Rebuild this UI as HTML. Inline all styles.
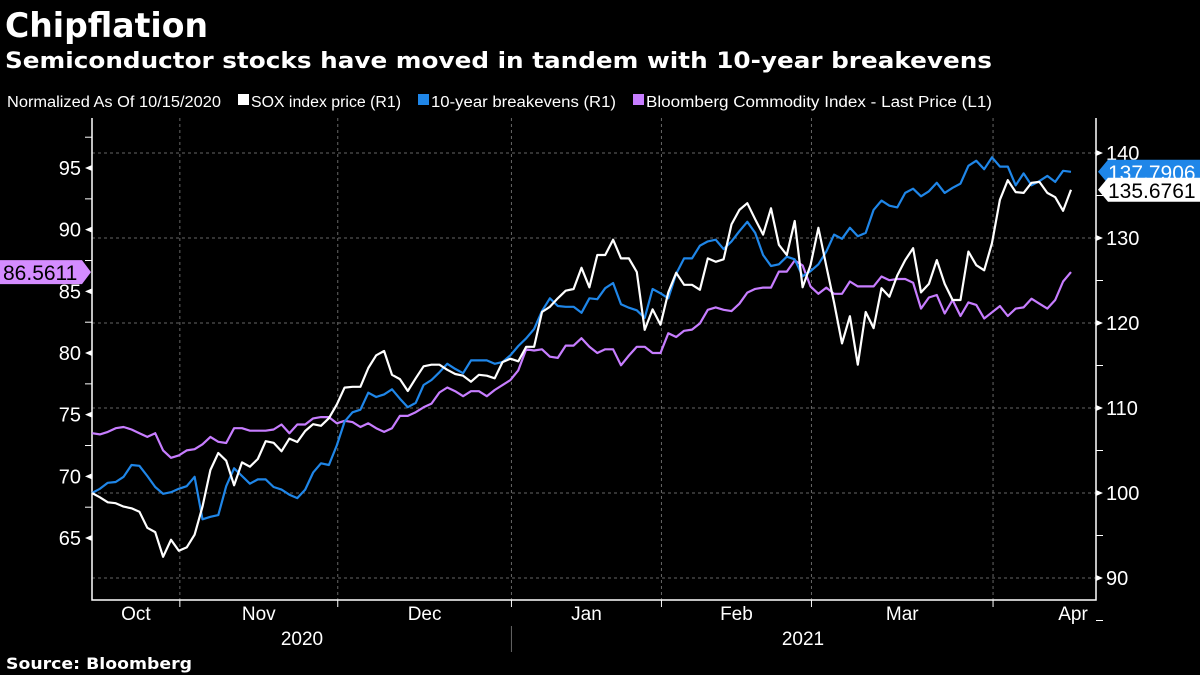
<!DOCTYPE html>
<html><head><meta charset="utf-8"><style>
html,body{margin:0;padding:0;background:#000;width:1200px;height:675px;overflow:hidden}
svg{display:block}
text{font-family:"Liberation Sans",sans-serif;fill:#fff}
.b{font-family:"DejaVu Sans","Liberation Sans",sans-serif;font-weight:bold}
</style></head><body>
<svg id="chart" width="1200" height="675" viewBox="0 0 1200 675" xmlns="http://www.w3.org/2000/svg">
<text class="b" x="5" y="37" font-size="34" textLength="203" lengthAdjust="spacingAndGlyphs">Chipflation</text>
<text class="b" x="5" y="68" font-size="22" textLength="987" lengthAdjust="spacingAndGlyphs">Semiconductor stocks have moved in tandem with 10-year breakevens</text>
<g>
<text x="7" y="107" font-size="15.5" textLength="214" lengthAdjust="spacingAndGlyphs">Normalized As Of 10/15/2020</text>
<rect x="238" y="94" width="11" height="11" fill="#fff"/>
<text x="251" y="107" font-size="15.5" textLength="150" lengthAdjust="spacingAndGlyphs">SOX index price (R1)</text>
<rect x="418" y="94" width="11" height="11" fill="#1f86e8"/>
<text x="431" y="107" font-size="15.5" textLength="185" lengthAdjust="spacingAndGlyphs">10-year breakevens (R1)</text>
<rect x="633" y="94" width="11" height="11" fill="#c77dff"/>
<text x="646" y="107" font-size="15.5" textLength="346" lengthAdjust="spacingAndGlyphs">Bloomberg Commodity Index - Last Price (L1)</text>
</g>
<g id="grid"></g>
<g id="axes"></g>
<g id="series"></g>
<g id="tags"></g>
<text class="b" x="6" y="669" font-size="16" textLength="186" lengthAdjust="spacingAndGlyphs">Source: Bloomberg</text>
</svg>
<script>
const soxValues=[100.0,99.5,98.9,98.8,98.4,98.2,97.8,95.9,95.4,92.5,94.5,93.2,93.6,95.1,98.4,102.7,104.7,103.8,100.9,103.6,103.1,104.0,106.1,105.9,104.9,106.4,106.0,107.3,108.1,107.9,108.8,110.4,112.4,112.5,112.5,114.7,116.2,116.7,113.9,113.4,112.0,113.5,114.9,115.1,115.1,114.5,114.0,113.8,113.1,113.9,113.8,113.5,115.4,115.8,115.5,117.2,117.2,121.3,121.9,122.9,123.8,124.0,126.5,124.2,128.0,128.0,129.8,127.6,127.6,126.0,119.2,121.6,119.8,123.6,125.9,124.5,124.5,123.9,127.6,127.2,127.5,131.6,133.3,134.1,132.2,130.4,133.5,129.2,128.0,132.0,124.2,126.8,131.2,126.7,122.4,117.6,120.8,115.1,121.3,119.4,124.1,123.1,125.6,127.4,128.8,123.6,124.6,127.4,124.6,122.7,122.7,128.4,126.8,126.2,129.4,134.5,136.8,135.4,135.3,136.5,136.6,135.3,134.8,133.2,135.6761];
const breakevenValues=[100.0,100.5,101.2,101.3,101.9,103.3,103.2,102.0,100.7,99.9,100.1,100.5,100.8,101.9,96.9,97.2,97.4,100.8,102.9,102.0,101.1,101.6,101.6,100.7,100.4,99.8,99.4,100.4,102.4,103.5,103.3,105.6,108.4,109.5,109.8,111.8,111.3,111.6,112.2,111.1,110.1,110.6,112.7,113.3,114.2,115.2,114.6,114.1,115.6,115.6,115.6,115.2,115.4,116.2,117.3,118.2,119.3,121.4,122.9,122.0,121.9,121.9,121.2,122.9,122.8,124.1,124.7,122.2,121.8,121.5,120.6,124.0,123.5,122.9,125.8,127.6,127.6,129.1,129.6,129.8,128.7,129.6,130.8,131.9,130.6,128.0,126.7,126.9,127.8,127.5,125.5,126.1,126.9,128.4,130.4,129.9,131.2,130.2,130.6,133.3,134.4,133.8,133.6,135.3,135.8,134.9,135.5,136.5,135.3,135.9,136.4,138.5,139.1,138.1,139.5,138.4,138.4,136.2,137.6,136.2,136.7,137.3,136.6,137.9,137.7906];
const bcomValues=[73.5,73.4,73.6,73.9,74.0,73.8,73.5,73.2,73.5,72.1,71.5,71.7,72.1,72.2,72.6,73.2,72.8,72.7,73.9,73.9,73.7,73.7,73.7,73.8,74.2,73.5,74.2,74.2,74.7,74.8,74.8,74.3,74.5,74.4,74.0,74.3,73.9,73.6,73.9,74.9,74.9,75.2,75.6,75.9,76.8,77.2,76.9,76.5,76.9,76.9,76.5,77.0,77.4,77.8,78.6,80.3,80.2,80.3,79.7,79.6,80.6,80.6,81.2,80.5,80.0,80.3,80.3,79.0,79.8,80.5,80.5,80.0,80.0,81.6,81.3,81.8,81.9,82.4,83.5,83.7,83.5,83.4,84.0,84.9,85.2,85.3,85.3,86.6,86.6,87.5,87.1,85.4,84.8,85.3,84.8,84.8,85.8,85.4,85.4,85.4,86.2,85.9,86.0,86.0,85.7,83.6,84.5,84.7,83.2,84.3,83.0,84.1,83.9,82.8,83.3,83.8,83.0,83.6,83.7,84.4,84.0,83.6,84.3,85.8,86.5611];
const leftTicks=[65,70,75,80,85,90,95];
const rightTicks=[90,100,110,120,130,140];
const monthLabels=["Oct","Nov","Dec","Jan","Feb","Mar","Apr"];
const monthStartIdx=[0,11,31,53,72,91,114];
const yearLabels=["2020","2021"];

const NS="http://www.w3.org/2000/svg";
const X0=92,X1=1096,YT=118,YB=600,STEP=979/124;
const xI=i=>X0+i*STEP;
const yR=v=>153+(140-v)*8.5;
const yL=v=>168+(95-v)*12.333;
function mk(tag,parent,attrs){const e=document.createElementNS(NS,tag);for(const k in attrs)e.setAttribute(k,attrs[k]);parent.appendChild(e);return e;}
const grid=document.getElementById('grid'),axes=document.getElementById('axes'),series=document.getElementById('series'),tags=document.getElementById('tags');

rightTicks.forEach((t,k)=>{
  const y=yR(t);
  const g=mk('line',grid,{x1:X0,x2:X1,y1:y,y2:y,stroke:'#666','stroke-width':1,'stroke-dasharray':'3,3'});
  
  
  const tk=mk('path',axes,{d:`M${X1} ${y-3}L${X1+7} ${y}L${X1} ${y+3}Z`,fill:'#fff'});
  
  
  const m=mk('line',axes,{x1:X1,x2:X1+7,y1:y+42.5,y2:y+42.5,stroke:'#fff','stroke-width':1});
  
  
  const tx=mk('text',axes,{x:X1+10,y:y+7,'font-size':20});
  tx.textContent=t;
  
  
});
leftTicks.forEach(t=>{
  const y=yL(t);
  const tk=mk('path',axes,{d:`M${X0} ${y-3}L${X0-7} ${y}L${X0} ${y+3}Z`,fill:'#fff'});
  
  
  const m=mk('line',axes,{x1:X0-7,x2:X0,y1:y-30.8,y2:y-30.8,stroke:'#fff','stroke-width':1});
  
  
  const tx=mk('text',axes,{x:X0-11,y:y+7,'font-size':20,'text-anchor':'end'});
  tx.textContent=t;
  
  
});
monthStartIdx.forEach((s,k)=>{
  const xs=xI(s)+(k?1:0);
  if(k>0){
    const v=mk('line',grid,{x1:xs,x2:xs,y1:YT,y2:YB,stroke:'#666','stroke-width':1,'stroke-dasharray':'3,3'});
    
    
    const tk=mk('line',axes,{x1:xs,x2:xs,y1:YB,y2:YB+7,stroke:'#fff','stroke-width':1});
    
    
  }
  const next=k<monthStartIdx.length-1?xI(monthStartIdx[k+1])+1:X1+40;
  const cx=k===monthStartIdx.length-1?1073:(xs+next)/2;
  const tx=mk('text',axes,{x:cx,y:620,'font-size':19,'text-anchor':'middle'});
  tx.textContent=monthLabels[k];
  
  
});
const sep=xI(monthStartIdx[3])+1;
const sl=mk('line',axes,{x1:sep,x2:sep,y1:626,y2:652,stroke:'#666','stroke-width':1});


[[302,yearLabels[0]],[803,yearLabels[1]]].forEach(([x,l])=>{
  const tx=mk('text',axes,{x:x,y:645,'font-size':19,'text-anchor':'middle'});
  tx.textContent=l;
  
  
});
const al=mk('path',axes,{d:`M${X0} ${YT}V${YB}H${X1}V${YT}`,fill:'none',stroke:'#fff','stroke-width':1.5});



function line(vals,yf,color,name){
  const d=vals.map((v,i)=>(i?'L':'M')+xI(i).toFixed(1)+' '+yf(v).toFixed(1)).join('');
  const p=mk('path',series,{d:d,fill:'none',stroke:color,'stroke-width':2.2,'stroke-linejoin':'round'});
  
  
}
line(bcomValues,yL,'#c77dff','bcom-line');
line(breakevenValues,yR,'#1f86e8','breakevens-line');
line(soxValues,yR,'#ffffff','sox-line');

function rtag(v,bg,fg,name){
  const y=yR(v);
  const p=mk('path',tags,{d:`M${X1+2} ${y}L${X1+12} ${y-12}H1200V${y+12}H${X1+12}Z`,fill:bg});
  
  
  const t=mk('text',tags,{x:X1+12,y:y+8,'font-size':21,fill:fg,style:'fill:'+fg});
  t.textContent=v.toFixed(4);
  
  
}
rtag(breakevenValues[breakevenValues.length-1],'#1f86e8','#fff','breakevens-last-tag');
rtag(soxValues[soxValues.length-1],'#fff','#000','sox-last-tag');
(function(){
  const v=bcomValues[bcomValues.length-1],y=yL(v);
  const p=mk('path',tags,{d:`M0 ${y-12}H${X0-10}L${X0-1} ${y}L${X0-10} ${y+12}H0Z`,fill:'#d48cff'});
  
  
  const t=mk('text',tags,{x:3,y:y+8,'font-size':21,style:'fill:#000'});
  t.textContent=v.toFixed(4);
  
  
})();
</script>
</body></html>
